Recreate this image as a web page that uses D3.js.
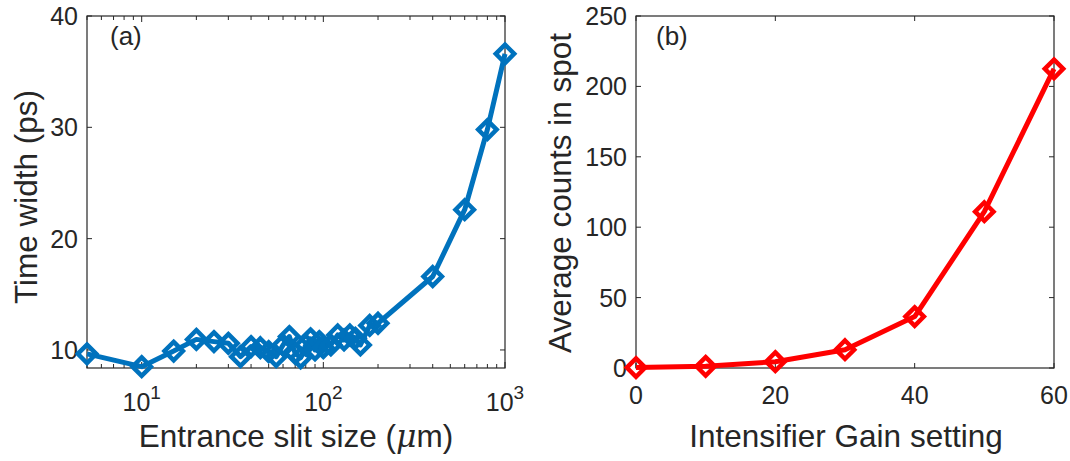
<!DOCTYPE html>
<html>
<head>
<meta charset="utf-8">
<script src="https://cdn.jsdelivr.net/npm/d3@7"></script>
<style>
  body { margin: 0; background: #fff; }
  text { font-family: "Liberation Sans", Arial, sans-serif; fill: #262626; }
</style>
</head>
<body>
<script>
// panel (a): slit size vs time width
var slitSize = [5, 10, 15, 20, 25, 30, 35, 40, 45, 50, 55, 60, 65, 70, 75, 80, 85, 90, 95, 100,
  110, 120, 130, 140, 150, 160, 180, 200, 400, 600, 800, 1000];
var timeWidth = [9.65, 8.5, 9.9, 10.95, 10.75, 10.6, 9.4, 10.3, 10.2, 9.85, 9.4, 10.45, 11.2, 9.7, 9.3, 10.45, 11.0, 10.0, 10.75, 10.2,
  10.45, 11.35, 10.9, 11.35, 11.05, 10.45, 12.2, 12.4, 16.6, 22.6, 29.8, 36.6];
var aYTicks = [10, 20, 30, 40];
var aXTicks = [10, 100, 1000];
var aXExp = ["1", "2", "3"];

// panel (b): intensifier gain vs counts
var gain = [0, 10, 20, 30, 40, 50, 60];
var counts = [0.3, 1.2, 4.5, 13, 36.5, 111, 212.5];
var bXTicks = [0, 20, 40, 60];
var bYTicks = [0, 50, 100, 150, 200, 250];

var W = 1070, H = 461;
var svg = d3.select("body").append("svg").attr("width", W).attr("height", H);

var axisColor = "#262626";
var tickLen = 5;
var tickFont = 25, labelFont = 31.5;

function diamond(r) {
  return "M0," + (-r) + "L" + r + ",0L0," + r + "L" + (-r) + ",0Z";
}

function box(g, x0, x1, y0, y1) {
  g.append("rect").attr("x", x0).attr("y", y0).attr("width", x1 - x0).attr("height", y1 - y0)
    .attr("fill", "none").attr("stroke", axisColor).attr("stroke-width", 1.2);
}

function drawSeries(g, xs, ys, x, y, color) {
  var pts = xs.map(function(v, i) { return [x(v), y(ys[i])]; });
  g.append("path").attr("d", d3.line()(pts))
    .attr("fill", "none").attr("stroke", color).attr("stroke-width", 5)
    .attr("stroke-linejoin", "round");
  g.selectAll("path.mk").data(pts).enter().append("path").attr("class", "mk")
    .attr("d", diamond(9.2))
    .attr("transform", function(d) { return "translate(" + d[0] + "," + d[1] + ")"; })
    .attr("fill", "none").attr("stroke", color).attr("stroke-width", 4.5);
}

// ---------- panel (a)
var ax = d3.scaleLog().domain([5, 1000]).range([87, 505]);
var ay = d3.scaleLinear().domain([8.38, 40]).range([368, 16]);
var ga = svg.append("g");
box(ga, 87, 505, 16, 368);

aYTicks.forEach(function(t) {
  ga.append("line").attr("x1", 87).attr("x2", 87 + tickLen).attr("y1", ay(t)).attr("y2", ay(t)).attr("stroke", axisColor);
  ga.append("line").attr("x1", 505).attr("x2", 505 - tickLen).attr("y1", ay(t)).attr("y2", ay(t)).attr("stroke", axisColor);
  ga.append("text").attr("x", 78).attr("y", ay(t)).attr("dy", "0.36em").attr("text-anchor", "end")
    .attr("font-size", tickFont).text(t);
});
// log minor + major ticks
var logTicks = ax.ticks().filter(function(t) { return t >= 5 && t <= 1000; });
logTicks.forEach(function(t) {
  var len = aXTicks.indexOf(t) >= 0 ? tickLen + 1 : tickLen - 1;
  ga.append("line").attr("x1", ax(t)).attr("x2", ax(t)).attr("y1", 368).attr("y2", 368 - len).attr("stroke", axisColor);
  ga.append("line").attr("x1", ax(t)).attr("x2", ax(t)).attr("y1", 16).attr("y2", 16 + len).attr("stroke", axisColor);
});
aXTicks.forEach(function(t, i) {
  var tx = ga.append("text").attr("x", ax(t)).attr("y", 411).attr("text-anchor", "middle").attr("font-size", tickFont);
  tx.append("tspan").text("10");
  tx.append("tspan").attr("dy", -12).attr("font-size", 19).text(aXExp[i]);
});

drawSeries(ga, slitSize, timeWidth, ax, ay, "#0072BD");

ga.append("text").attr("x", 110).attr("y", 45).attr("font-size", 26).text("(a)");
ga.append("text").attr("transform", "translate(37,197) rotate(-90)").attr("text-anchor", "middle")
  .attr("font-size", labelFont).text("Time width (ps)");
var xl = ga.append("text").attr("x", 296).attr("y", 447).attr("text-anchor", "middle").attr("font-size", labelFont);
xl.append("tspan").text("Entrance slit size (");
xl.append("tspan").attr("font-style", "italic").attr("font-family", "DejaVu Serif, serif").text("\u03bc");
xl.append("tspan").text("m)");

// ---------- panel (b)
var bx = d3.scaleLinear().domain([0, 60]).range([636, 1054]);
var by = d3.scaleLinear().domain([0, 250]).range([368, 16]);
var gb = svg.append("g");
box(gb, 636, 1054, 16, 368);

bYTicks.forEach(function(t) {
  gb.append("line").attr("x1", 636).attr("x2", 636 + tickLen).attr("y1", by(t)).attr("y2", by(t)).attr("stroke", axisColor);
  gb.append("line").attr("x1", 1054).attr("x2", 1054 - tickLen).attr("y1", by(t)).attr("y2", by(t)).attr("stroke", axisColor);
  gb.append("text").attr("x", 627).attr("y", by(t)).attr("dy", "0.36em").attr("text-anchor", "end")
    .attr("font-size", tickFont).text(t);
});
bXTicks.forEach(function(t) {
  gb.append("line").attr("x1", bx(t)).attr("x2", bx(t)).attr("y1", 368).attr("y2", 368 - tickLen).attr("stroke", axisColor);
  gb.append("line").attr("x1", bx(t)).attr("x2", bx(t)).attr("y1", 16).attr("y2", 16 + tickLen).attr("stroke", axisColor);
  gb.append("text").attr("x", bx(t)).attr("y", 404).attr("text-anchor", "middle").attr("font-size", tickFont).text(t);
});

drawSeries(gb, gain, counts, bx, by, "#FF0000");

gb.append("text").attr("x", 656).attr("y", 45).attr("font-size", 26).text("(b)");
gb.append("text").attr("transform", "translate(571,193) rotate(-90)").attr("text-anchor", "middle")
  .attr("font-size", labelFont).text("Average counts in spot");
gb.append("text").attr("x", 846).attr("y", 447).attr("text-anchor", "middle").attr("font-size", labelFont)
  .text("Intensifier Gain setting");
</script>
</body>
</html>
